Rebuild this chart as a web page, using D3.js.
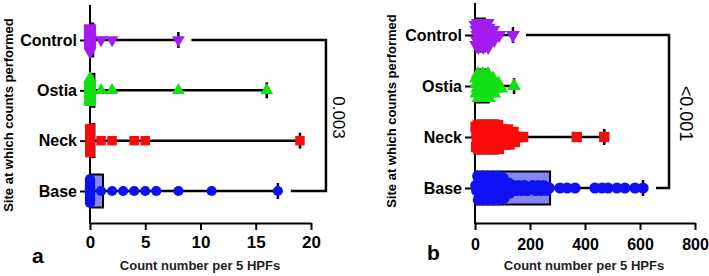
<!DOCTYPE html>
<html>
<head>
<meta charset="utf-8">
<script src="https://cdn.jsdelivr.net/npm/d3@7"></script>
<style>
  body { margin: 0; background: #fff; }
  svg { display: block; font-family: "Liberation Sans", Arial, sans-serif; }
</style>
</head>
<body>
<div id="chart"></div>
<script>
// Sitios y colores
const sites = ["Control", "Ostia", "Neck", "Base"];
const siteColors = ["#a21cf0", "#12e012", "#fa0a0a", "#1010f5"];
const barFills = ["#d9a6fa", "#9ef09e", "#fa9a9a", "#8585f5"];

// Panel a (0 - 20)
const controlA = [0,0,0,0,0,0,0,0,0,0,0,0,0,0,0,0,0,0,0,0,0,0,0,0,0,0,0,0,1,2,8];
const ostiaA   = [0,0,0,0,0,0,0,0,0,0,0,0,0,0,0,0,0,0,0,0,0,0,0,0,0,0,0,1,2,8,16];
const neckA    = [0,0,0,0,0,0,0,0,0,0,0,0,0,0,0,0,0,0,0,0,0,0,0,0,0,1,2,4,5,19];
const baseA    = [0,0,0,0,0,0,0,0,0,0,0,0,0,0,0,0,0,0,0,0,0,1,2,3,4,5,6,8,11,17];
const barsA = [0.3, 0.4, 0.4, 1.18];
const ticksA = [0, 5, 10, 15, 20];
const pValueA = "0.003";

// Panel b (0 - 800)
const controlB = [2,4,5,7,8, 10,12,15,18,20,22,25, 28,30,32,35,38,40,42, 46,48,50,55,58,62, 66,70,78, 88, 138];
const ostiaB   = [3,5,6,8, 10,13,16,19,21,24,26, 28,30,33,35,37,40,42,44, 47,50,53,56,59,62, 66,70,74,79, 85,95, 142];
const neckB    = [2,4,5,7,8, 10,12,14,16,19,21,23,25, 28,30,32,34,36,38,40,42,44, 46,48,50,52,55,57,59,61,63,
                  65,67,70,72,74,77,79,81, 84,87,90,93,96,99, 103,107,111,115, 120,125,129,133, 140,145,150, 162, 175, 370, 470];
const baseB    = [3,6, 10,12,14,16,19,21,23,25, 28,29,31,33,35,37,39,41,42,44, 46,48,50,52,54,56,58,60,61,63,
                  65,67,69,71,73,75,77,79,81, 84,87,89,92,94,97,99, 102,106,110,113,116, 122,127,132,
                  140,150,160,170,180,190,200,210,220,230,240,250,260,270,
                  309,335,364,436,462,484,516,545,582,611];
const barsB = [36, 50, 84, 273];
const ticksB = [0, 200, 400, 600, 800];
const pValueB = "<0.001";

const svg = d3.select("#chart").append("svg")
    .attr("width", 709)
    .attr("height", 276);

// Símbolos para cada sitio (escala k)
function makeSymbols(k) {
    return [
        d3.symbol().type(d3.symbolTriangle).size(70 * k),
        d3.symbol().type(d3.symbolTriangle).size(70 * k),
        d3.symbol().type(d3.symbolSquare).size(90 * k),
        d3.symbol().type(d3.symbolCircle).size(82 * k)
    ];
}

/**
 * Reparte los puntos verticalmente cuando caen en la misma columna.
 */
function spread(values, x, step) {
    const pts = values.map(v => ({ v: v, px: x(v) }));
    const bins = d3.group(pts, d => Math.round((d.px - x(0)) / 5));
    const out = [];
    for (const [, group] of bins) {
        const n = group.length;
        const h = Math.min(12, (n - 1) * step / 2);
        const offsets = d3.range(n).map(i => n === 1 ? 0 : -h + 2 * h * i / (n - 1));
        // intercalar arriba / abajo
        const order = [];
        for (let i = 0, j = n - 1; i <= j; i++, j--) {
            order.push(i);
            if (i !== j) order.push(j);
        }
        group.forEach((p, k) => { p.dy = offsets[order[k]]; out.push(p); });
    }
    return out;
}

function drawPanel(cfg) {
    const g = svg.append("g");
    const x = d3.scaleLinear().domain(cfg.domain).range(cfg.xRange);
    const y = d3.scalePoint().domain(sites).range(cfg.yRange);
    const x0 = cfg.xRange[0];
    const symbols = makeSymbols(cfg.markScale);

    // Eje X
    g.append("g")
        .attr("transform", `translate(0,${cfg.axisY})`)
        .call(d3.axisBottom(x).tickValues(cfg.ticks).tickSize(7).tickSizeOuter(0).tickPadding(cfg.tickPad))
        .call(a => a.select(".domain").attr("stroke-width", 2))
        .call(a => a.selectAll(".tick line").attr("stroke-width", 2))
        .call(a => a.selectAll(".tick text")
            .attr("font-size", cfg.tickFont)
            .attr("font-weight", "bold")
            .attr("fill", "#000")
            .attr("font-family", "Liberation Sans, Arial, sans-serif"));

    // Eje Y
    g.append("g")
        .attr("transform", `translate(${x0},0)`)
        .call(d3.axisLeft(y).tickSize(10).tickPadding(3))
        .call(a => a.select(".domain").remove())
        .call(a => a.selectAll(".tick line").attr("stroke-width", 2))
        .call(a => a.selectAll(".tick text")
            .attr("font-size", 16)
            .attr("font-weight", "bold")
            .attr("fill", "#000")
            .attr("font-family", "Liberation Sans, Arial, sans-serif"));
    g.append("line")
        .attr("x1", x0).attr("x2", x0)
        .attr("y1", cfg.axisTop).attr("y2", cfg.axisY + 1)
        .attr("stroke", "#000").attr("stroke-width", 2);

    // Barras
    g.selectAll("rect.bar")
        .data(cfg.bars)
        .join("rect")
        .attr("class", "bar")
        .attr("x", x(0))
        .attr("y", (d, i) => y(sites[i]) - 16.5)
        .attr("width", d => x(d) - x(0))
        .attr("height", 33)
        .attr("fill", (d, i) => barFills[i])
        .attr("stroke", "#000")
        .attr("stroke-width", 2);

    // Rango (mín - máx)
    cfg.groups.forEach((vals, i) => {
        const cy = y(sites[i]);
        const [mn, mx] = d3.extent(vals);
        g.append("line")
            .attr("x1", x(mn)).attr("x2", x(mx))
            .attr("y1", cy).attr("y2", cy)
            .attr("stroke", "#000").attr("stroke-width", 2.5);
        [mn, mx].forEach(v => {
            g.append("line")
                .attr("x1", x(v)).attr("x2", x(v))
                .attr("y1", cy - 8).attr("y2", cy + 8)
                .attr("stroke", "#000").attr("stroke-width", 2.5);
        });
    });

    // Puntos
    cfg.groups.forEach((vals, i) => {
        const cy = y(sites[i]);
        g.append("g")
            .selectAll("path")
            .data(spread(vals, x, cfg.step))
            .join("path")
            .attr("d", symbols[i])
            .attr("transform", d => `translate(${d.px},${cy + d.dy})${i === 0 ? " rotate(180)" : ""}`)
            .attr("fill", siteColors[i]);
    });

    // Corchete de significancia
    const maxAll = d3.max(cfg.groups.flat());
    const bx = x(maxAll) + 26;
    const yC = y("Control"), yB = y("Base");
    g.append("path")
        .attr("d", `M${x(d3.max(cfg.groups[0])) + 13},${yC}H${bx}V${yB}H${x(d3.max(cfg.groups[3])) + 13}`)
        .attr("fill", "none")
        .attr("stroke", "#000")
        .attr("stroke-width", 2.5);
    g.append("text")
        .attr("transform", `translate(${cfg.pX},${(yC + yB) / 2 + 2}) rotate(90)`)
        .attr("text-anchor", "middle")
        .attr("font-size", cfg.pFont)
        .text(cfg.pText);

    // Títulos
    g.append("text")
        .attr("transform", `translate(${cfg.yTitleX},${cfg.yTitleY}) rotate(-90)`)
        .attr("text-anchor", "middle")
        .attr("font-size", 13)
        .attr("font-weight", "bold")
        .text("Site at which counts performed");
    g.append("text")
        .attr("x", cfg.xTitleX).attr("y", 270)
        .attr("text-anchor", "middle")
        .attr("font-size", 13)
        .attr("font-weight", "bold")
        .attr("fill", "#222")
        .text("Count number per 5 HPFs");
    g.append("text")
        .attr("x", cfg.letterX).attr("y", cfg.letterY)
        .attr("font-size", 21)
        .attr("font-weight", "bold")
        .text(cfg.letter);
}

drawPanel({
    groups: [controlA, ostiaA, neckA, baseA],
    bars: barsA, ticks: ticksA, domain: [0, 20],
    xRange: [90, 311], yRange: [40, 191], axisY: 223, axisTop: 5,
    tickFont: 17, tickPad: 6, markScale: 1, step: 4,
    pText: pValueA, pX: 333, pFont: 17,
    yTitleX: 13, yTitleY: 115, xTitleX: 200,
    letter: "a", letterX: 32, letterY: 263
});

drawPanel({
    groups: [controlB, ostiaB, neckB, baseB],
    bars: barsB, ticks: ticksB, domain: [0, 800],
    xRange: [475, 695], yRange: [35, 188], axisY: 223, axisTop: 3,
    tickFont: 16, tickPad: 9, markScale: 1.2, step: 5,
    pText: pValueB, pX: 680, pFont: 18,
    yTitleX: 396, yTitleY: 111, xTitleX: 584,
    letter: "b", letterX: 427, letterY: 260
});
</script>
</body>
</html>
